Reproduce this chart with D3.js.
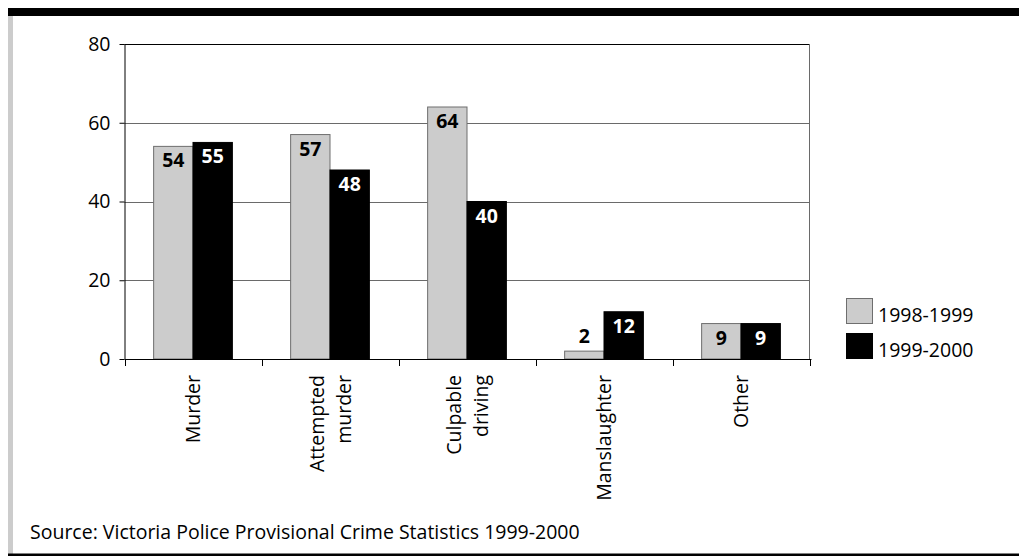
<!DOCTYPE html>
<html>
<head>
<meta charset="utf-8">
<script src="https://cdn.jsdelivr.net/npm/d3@7"></script>
<style>
  html, body { margin: 0; padding: 0; background: #fff; }
  svg text { font-family: "Open Sans", "DejaVu Sans", sans-serif; }
</style>
</head>
<body>
<script>
// Homicide-related offences recorded in Victoria, two financial years
const categories = [["Murder"], ["Attempted", "murder"], ["Culpable", "driving"], ["Manslaughter"], ["Other"]];
const seriesNames = ["1998-1999", "1999-2000"];
const values1998 = [54, 57, 64, 2, 9];
const values1999 = [55, 48, 40, 12, 9];
const yTicks = [0, 20, 40, 60, 80];
const sourceNote = "Source: Victoria Police Provisional Crime Statistics 1999-2000";

const W = 1019, H = 556;
const FS = 19.5;
const fills = ["#cccccc", "#000000"];
const strokes = ["#6e6e6e", "#000000"];
const labelColors = ["#000000", "#ffffff"];

const svg = d3.select("body").append("svg")
  .attr("width", W).attr("height", H);

// Frame: heavy rule on top, grey strip on the left, thin rule at the bottom
svg.append("rect").attr("x", 8).attr("y", 8).attr("width", W - 8).attr("height", 8).attr("fill", "#000");
svg.append("rect").attr("x", 8).attr("y", 16).attr("width", 5).attr("height", 538).attr("fill", "#cccccc");
svg.append("rect").attr("x", 8).attr("y", 553.5).attr("width", W - 8).attr("height", 2.5).attr("fill", "#000");

const plot = { left: 124.5, right: 809.5, top: 44, bottom: 359 };

const x0 = d3.scaleBand()
  .domain(d3.range(categories.length))
  .range([plot.left, plot.right])
  .paddingInner(0).paddingOuter(0);

const x1 = d3.scaleBand()
  .domain(d3.range(seriesNames.length))
  .range([0, x0.bandwidth()])
  .paddingInner(0).paddingOuter(0.74);

const y = d3.scaleLinear().domain([0, 80]).range([plot.bottom, plot.top]);

// Gridlines
svg.append("g").selectAll("line")
  .data(yTicks.filter(t => t > 0 && t < 80))
  .join("line")
  .attr("x1", plot.left).attr("x2", plot.right)
  .attr("y1", d => Math.round(y(d)) + 0.5).attr("y2", d => Math.round(y(d)) + 0.5)
  .attr("stroke", "#6a6a6a").attr("stroke-width", 1);

// Plot border (top and right)
svg.append("line").attr("x1", plot.left).attr("x2", plot.right)
  .attr("y1", plot.top + 0.5).attr("y2", plot.top + 0.5).attr("stroke", "#000");
svg.append("line").attr("x1", plot.right).attr("x2", plot.right)
  .attr("y1", plot.top).attr("y2", plot.bottom).attr("stroke", "#6a6a6a");

// Bars
const rows = categories.map((c, i) => [values1998[i], values1999[i]]);
const groups = svg.append("g").selectAll("g")
  .data(rows)
  .join("g")
  .attr("transform", (d, i) => `translate(${x0(i)},0)`);

groups.selectAll("rect")
  .data(d => d.map((v, s) => ({ v, s })))
  .join("rect")
  .attr("x", d => x1(d.s))
  .attr("width", x1.bandwidth())
  .attr("y", d => y(d.v))
  .attr("height", d => y(0) - y(d.v))
  .attr("fill", d => fills[d.s])
  .attr("stroke", d => strokes[d.s])
  .attr("stroke-width", 1);

// Value labels: inside the bar top, or just above when the bar is too short
const short = d => (y(0) - y(d.v) < 24);
groups.selectAll("text")
  .data(d => d.map((v, s) => ({ v, s })))
  .join("text")
  .attr("x", d => x1(d.s) + x1.bandwidth() / 2)
  .attr("y", d => short(d) ? y(d.v) - 8 : y(d.v) + 21)
  .attr("text-anchor", "middle")
  .attr("font-size", FS)
  .attr("font-weight", "bold")
  .attr("fill", d => short(d) ? "#000" : labelColors[d.s])
  .text(d => d.v);

// Y axis
const yAxis = svg.append("g")
  .attr("transform", `translate(${plot.left},0)`)
  .call(d3.axisLeft(y).tickValues(yTicks).tickSize(5).tickPadding(9).tickFormat(d3.format("d")));
yAxis.select(".domain").attr("stroke", "#000").attr("d", `M0.5,${plot.top}V${plot.bottom}`);
yAxis.selectAll(".tick line").attr("stroke", "#000");
yAxis.selectAll(".tick text").attr("font-size", FS).attr("fill", "#000")
  .attr("font-family", '"Open Sans", sans-serif');

// X axis baseline with boundary ticks between categories
const bounds = d3.range(categories.length + 1).map(i => i < categories.length ? x0(i) : plot.right);
svg.append("line").attr("x1", plot.left).attr("x2", plot.right + 2)
  .attr("y1", plot.bottom + 0.5).attr("y2", plot.bottom + 0.5).attr("stroke", "#000");
svg.append("g").selectAll("line").data(bounds).join("line")
  .attr("x1", d => Math.round(d) + 0.5).attr("x2", d => Math.round(d) + 0.5)
  .attr("y1", plot.bottom).attr("y2", plot.bottom + 7)
  .attr("stroke", "#000");

// Rotated category labels
const lineGap = 27;
svg.append("g").selectAll("g")
  .data(categories)
  .join("g")
  .attr("transform", (d, i) => `translate(${x0(i) + x0.bandwidth() / 2},375) rotate(-90)`)
  .each(function (lines) {
    const g = d3.select(this);
    const n = lines.length;
    lines.forEach((t, k) => {
      g.append("text")
        .attr("x", 0)
        .attr("y", (k - (n - 1) / 2) * lineGap + 7)
        .attr("text-anchor", "end")
        .attr("font-size", FS)
        .attr("fill", "#000")
        .text(t);
    });
  });

// Legend
const legend = svg.append("g").attr("transform", "translate(846,298)");
seriesNames.forEach((name, s) => {
  legend.append("rect")
    .attr("x", 0.5).attr("y", s * 35 + 0.5)
    .attr("width", 26).attr("height", 25)
    .attr("fill", fills[s]).attr("stroke", s === 0 ? "#6e6e6e" : "#000");
  legend.append("text")
    .attr("x", 32).attr("y", s * 35 + 24)
    .attr("font-size", FS).attr("fill", "#000")
    .text(name);
});

// Source note
svg.append("text").attr("x", 30).attr("y", 539)
  .attr("font-size", FS).attr("fill", "#000")
  .text(sourceNote);
</script>
</body>
</html>
